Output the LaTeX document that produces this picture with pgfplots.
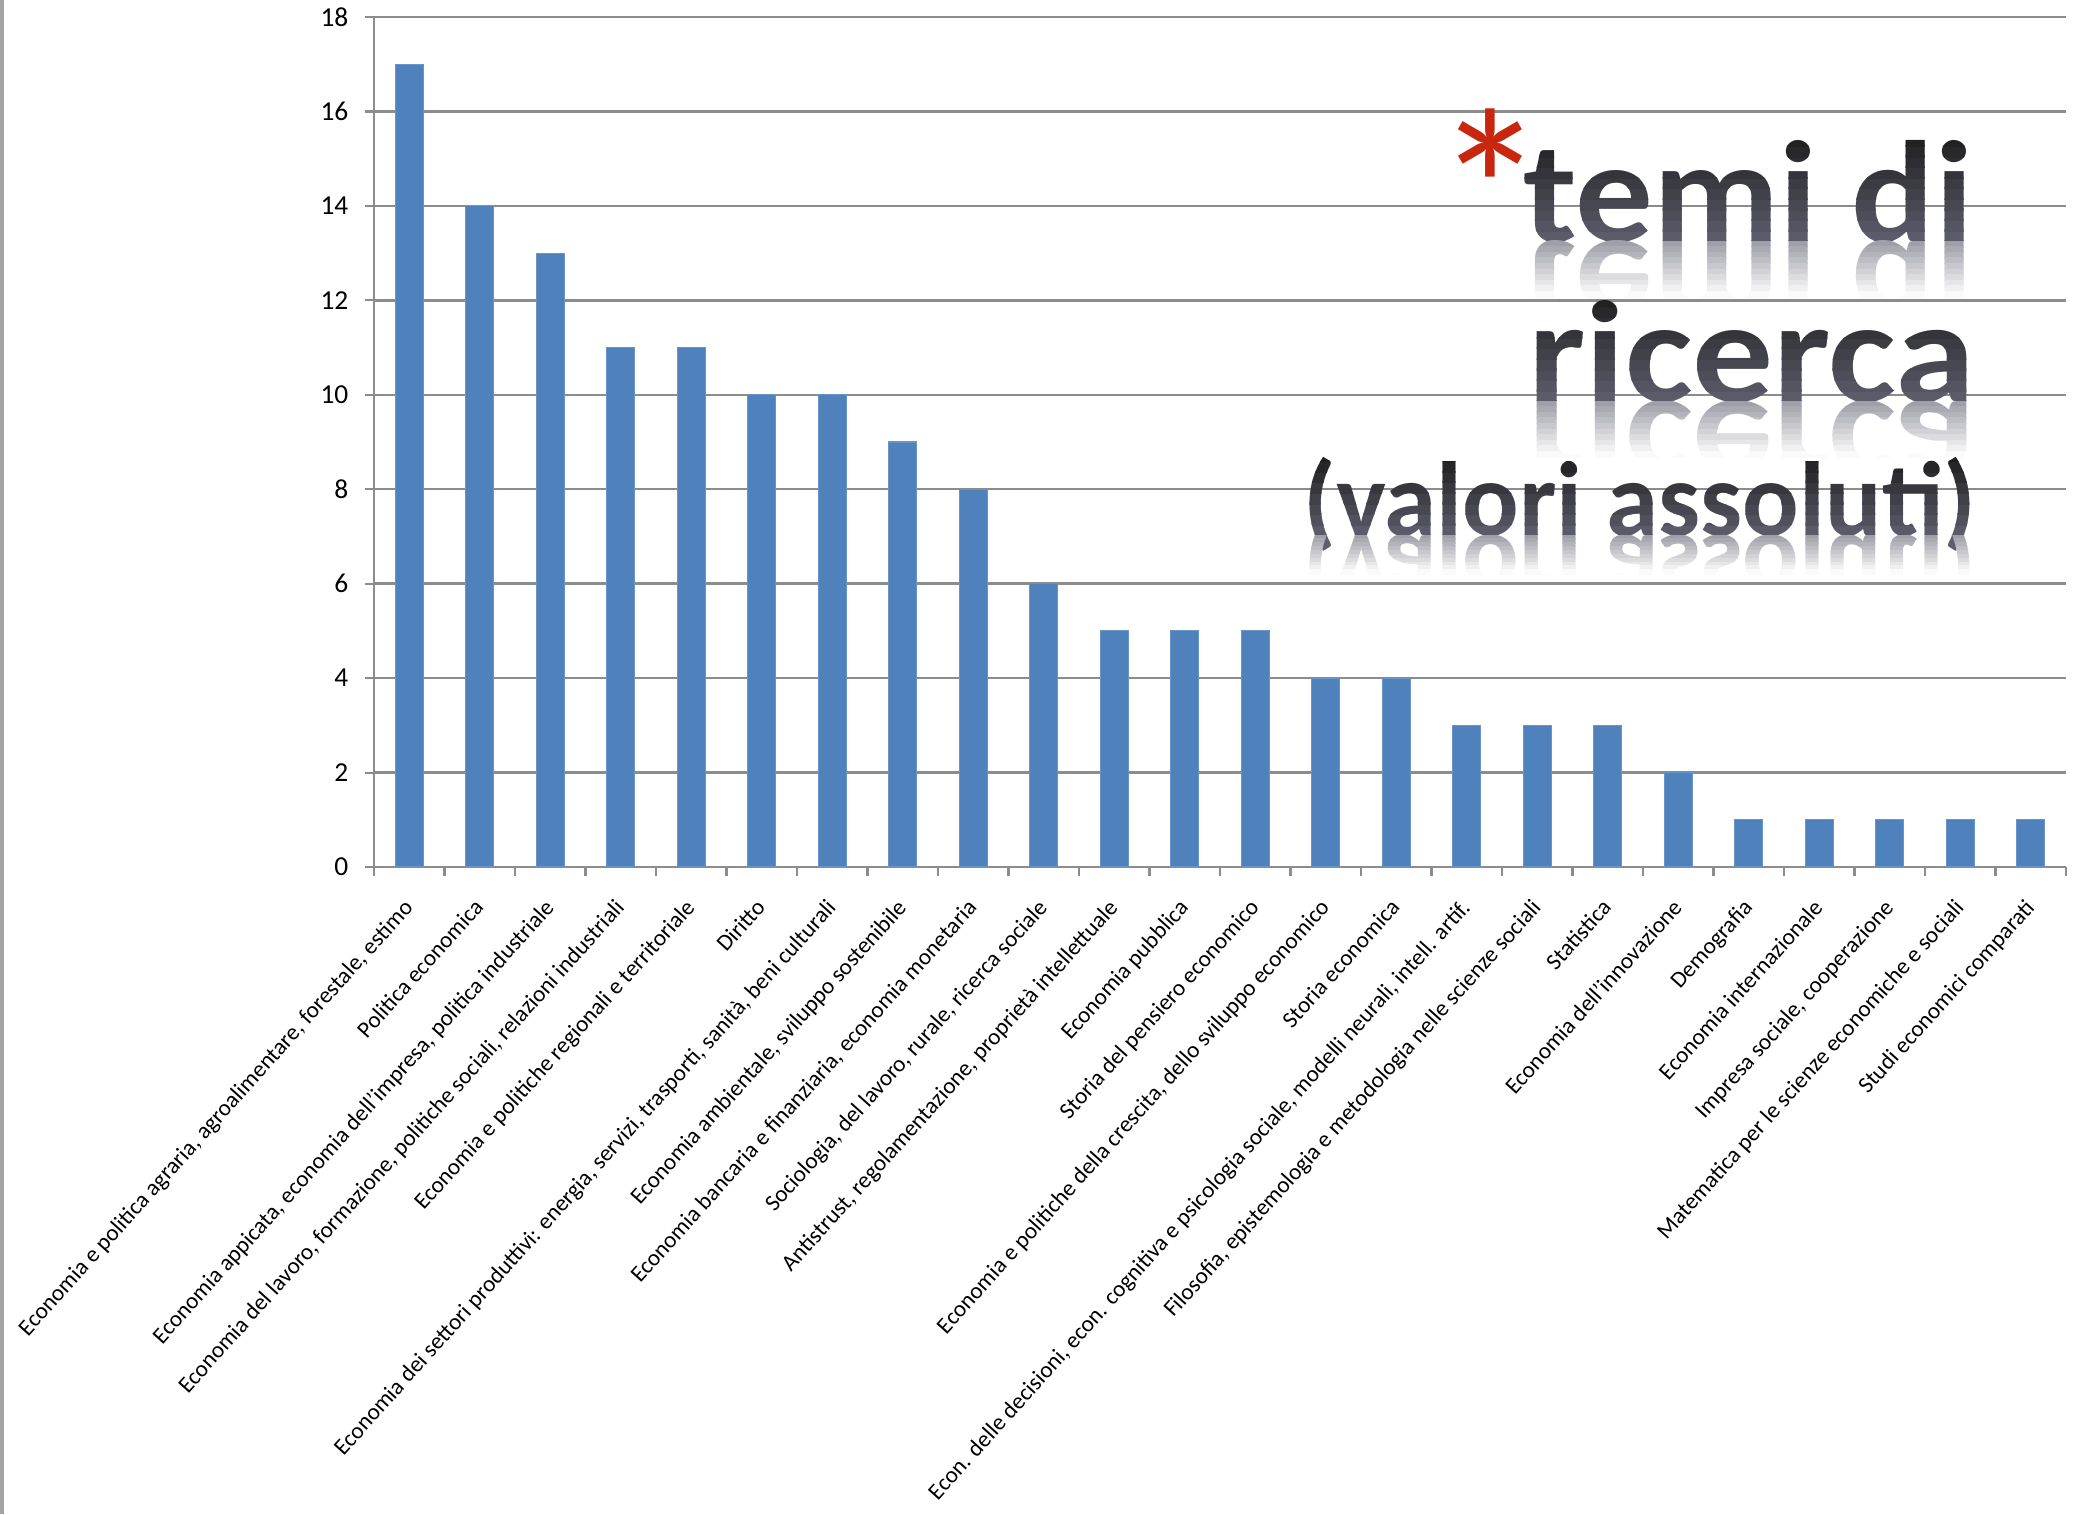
\documentclass[border=0pt]{standalone}
\usepackage{pgfplots}
\pgfplotsset{compat=1.18}
\usepackage{fontspec}
\setmainfont{Carlito}
\usepackage{graphicx}
\usetikzlibrary{calc}
\definecolor{barblue}{HTML}{4F81BD}
\definecolor{gridgray}{HTML}{8C8C8C}
\definecolor{astred}{HTML}{C8260F}
\definecolor{tTop}{HTML}{1E1E1E}
\definecolor{tBot}{HTML}{5E5E6E}
\definecolor{rTop}{HTML}{9A9AA4}
\newcommand\fA{\fontsize{41}{41}\selectfont\bfseries}
\newcommand\fC{\fontsize{30}{30}\selectfont\bfseries}

% #1 x right, #2 baseline y, #3 font, #4 text, #5 ascender height (pt), #6 reflection length (pt), #7 horizontal scale
\newcommand\gradtext[7]{%
  \foreach \k in {0,...,15}{%
    \pgfmathsetmacro\lo{-12+3*\k}%
    \pgfmathtruncatemacro\pct{min(100,max(0,100*(\lo+1.5)/#5))}%
    \begin{scope}
      \clip (0,{#2+(\lo-0.2)*1pt}) rectangle (208.1mm,{#2+(\lo+3.2)*1pt});
      \node[anchor=base east, inner sep=0pt, text=tTop!\pct!tBot] at (#1,#2) {\scalebox{#7}[1]{#3#4}};
    \end{scope}
  }%
  \foreach \k in {0,...,9}{%
    \pgfmathsetmacro\hi{-#6*\k/10}%
    \pgfmathsetmacro\lo{-#6*(\k+1)/10}%
    \pgfmathtruncatemacro\pct{100*(\k+0.5)/10}%
    \begin{scope}
      \clip (0,{#2+(\lo-0.1)*1pt}) rectangle (208.1mm,{#2+(\hi)*1pt});
      \node[anchor=base east, inner sep=0pt, text=white!\pct!rTop] at (#1,#2) {\scalebox{#7}[-1]{#3#4}};
    \end{scope}
  }%
}

\begin{document}
\begin{tikzpicture}
\useasboundingbox (0,0) rectangle (208.1mm,151.4mm);
\draw[gridgray!80, line width=0.35mm] (0.2mm,0) -- (0.2mm,151.4mm);
\begin{axis}[
  at={(37.4mm,64.7mm)}, anchor=south west,
  scale only axis, width=169.2mm, height=85.0mm,
  ybar, bar width=2.8mm,
  xmin=-0.5, xmax=23.5, ymin=0, ymax=18,
  ytick={0,2,...,18},
  xtick={-0.5,0.5,...,23.5}, xticklabels={},
  extra x ticks={0,1,...,23},
  extra x tick style={major tick length=0pt},
  extra x tick labels={
    {Economia e politica agraria, agroalimentare, forestale, estimo},
    {Politica economica},
    {Economia appicata, economia dell'impresa, politica industriale},
    {Economia del lavoro, formazione, politiche sociali, relazioni industriali},
    {Economia e politiche regionali e territoriale},
    {Diritto},
    {Economia dei settori produttivi: energia, servizi, trasporti, sanità, beni culturali},
    {Economia ambientale, sviluppo sostenibile},
    {Economia bancaria e finanziaria, economia monetaria},
    {Sociologia, del lavoro, rurale, ricerca sociale},
    {Antistrust, regolamentazione, proprietà intellettuale},
    {Economia pubblica},
    {Storia del pensiero economico},
    {Economia e politiche della crescita, dello sviluppo economico},
    {Storia economica},
    {Econ. delle decisioni, econ. cognitiva e psicologia sociale, modelli neurali, intell. artif.},
    {Filosofia, epistemologia e metodologia nelle scienze sociali},
    {Statistica},
    {Economia dell'innovazione},
    {Demografia},
    {Economia internazionale},
    {Impresa sociale, cooperazione},
    {Matematica per le scienze economiche e sociali},
    {Studi economici comparati}},
  xticklabel style={rotate=48, anchor=north east, inner sep=0pt, yshift=-1.45mm, xshift=-2.7mm, font=\fontsize{6.6}{7.5}\selectfont},
  yticklabel style={font=\fontsize{7.8}{9}\selectfont, inner sep=0pt, xshift=-1.6mm},
  /pgf/number format/assume math mode=true,
  axis lines*=left,
  axis line style={draw=gridgray, line width=0.8pt},
  ymajorgrids=true,
  grid style={draw=gridgray, line width=0.7pt},
  tick align=outside, major tick length=0.9mm,
  tick style={draw=gridgray, line width=0.6pt},
  clip=false,
]
\addplot[fill=barblue, draw=barblue!85!white, line width=0.3pt] coordinates {
(0,17) (1,14) (2,13) (3,11) (4,11) (5,10) (6,10) (7,9) (8,8) (9,6) (10,5) (11,5)
(12,5) (13,4) (14,4) (15,3) (16,3) (17,3) (18,2) (19,1) (20,1) (21,1) (22,1) (23,1)};
\end{axis}
% title
\gradtext{197.4mm}{127.3mm}{\fA}{temi di}{30}{16}{1.075}
\gradtext{197.6mm}{111.3mm}{\fA}{ricerca}{30}{16}{1.12}
\gradtext{197.7mm}{97.9mm}{\fC}{(valori assoluti)}{22}{11}{1.0}
\node[anchor=base, text=astred, inner sep=0pt] at ($(149.0mm,136.7mm)+(0,-34.5pt)$) {\fontsize{64}{64}\selectfont *};
\end{tikzpicture}
\end{document}
